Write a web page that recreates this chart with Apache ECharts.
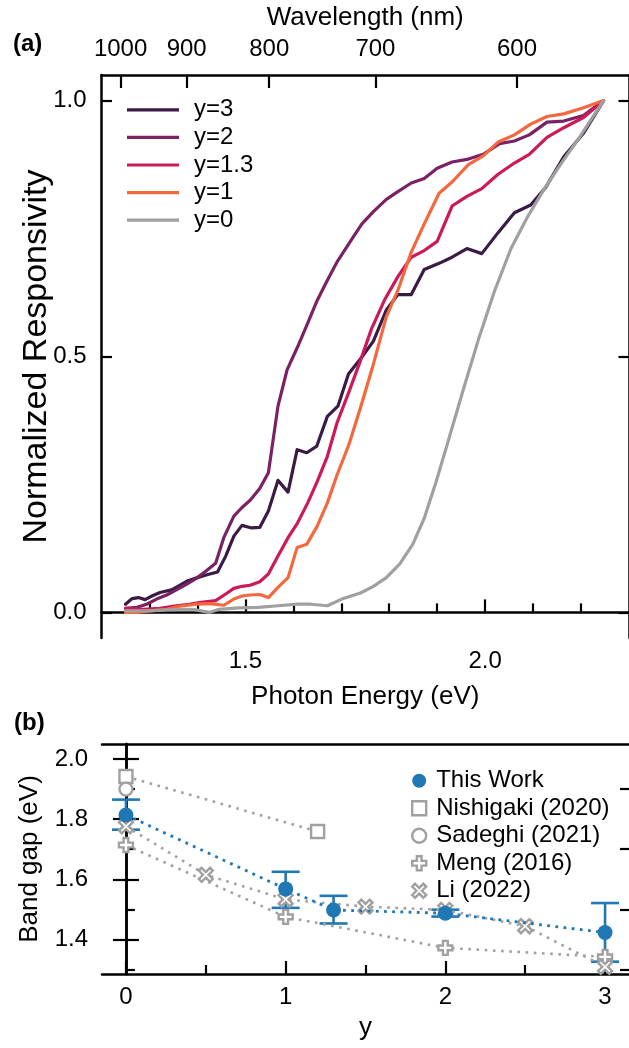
<!DOCTYPE html>
<html>
<head>
<meta charset="utf-8">
<script src="https://cdn.jsdelivr.net/npm/echarts@6/dist/echarts.min.js"></script>
<style>
html,body{margin:0;padding:0;background:#fff;}
#c{width:629px;height:1048px;}
</style>
</head>
<body>
<div id="c"></div>
<script>
// ---------- Panel (a): normalized responsivity vs photon energy ----------
const curveNames = ['y=3', 'y=2', 'y=1.3', 'y=1', 'y=0'];
const curveColors = ['#3b1b46', '#7a2263', '#cc1a56', '#f4683f', '#a0a0a0'];

const energyY3 = [1.250,1.264,1.277,1.291,1.305,1.322,1.346,1.363,1.380,1.397,1.418,1.442,1.459,1.476,1.493,1.513,1.530,1.548,1.568,1.589,1.608,1.628,1.649,1.671,1.693,1.715,1.743,1.767,1.794,1.818,1.846,1.873,1.904,1.931,1.962,1.993,2.027,2.061,2.095,2.126,2.164,2.205,2.247];
const respY3   = [0.016,0.027,0.029,0.025,0.032,0.039,0.044,0.053,0.062,0.067,0.073,0.079,0.110,0.149,0.170,0.165,0.166,0.198,0.258,0.235,0.318,0.312,0.325,0.383,0.403,0.466,0.499,0.530,0.591,0.621,0.621,0.670,0.682,0.694,0.711,0.701,0.742,0.781,0.796,0.830,0.890,0.936,1.0];

const energyY2 = [1.250,1.274,1.294,1.315,1.336,1.356,1.377,1.397,1.418,1.438,1.455,1.476,1.493,1.510,1.530,1.548,1.568,1.587,1.609,1.630,1.650,1.671,1.692,1.719,1.743,1.767,1.794,1.818,1.846,1.873,1.900,1.931,1.962,1.996,2.030,2.061,2.092,2.129,2.164,2.205,2.247];
const respY2   = [0.008,0.010,0.016,0.026,0.034,0.044,0.055,0.066,0.081,0.096,0.146,0.188,0.205,0.219,0.242,0.273,0.403,0.474,0.519,0.565,0.610,0.649,0.686,0.725,0.759,0.783,0.807,0.822,0.839,0.848,0.868,0.880,0.885,0.895,0.916,0.921,0.933,0.958,0.960,0.971,1.0];

const energyY13 = [1.250,1.287,1.322,1.356,1.383,1.404,1.438,1.459,1.476,1.493,1.510,1.530,1.548,1.568,1.589,1.609,1.630,1.650,1.671,1.691,1.716,1.740,1.763,1.791,1.818,1.846,1.873,1.900,1.931,1.962,1.993,2.027,2.061,2.092,2.129,2.164,2.205,2.247];
const respY13   = [0.008,0.006,0.008,0.013,0.016,0.019,0.023,0.036,0.047,0.051,0.053,0.060,0.075,0.110,0.146,0.175,0.214,0.256,0.305,0.370,0.431,0.492,0.554,0.612,0.656,0.694,0.707,0.725,0.794,0.813,0.828,0.856,0.878,0.895,0.928,0.947,0.967,1.0];

const energyY1 = [1.250,1.274,1.301,1.336,1.363,1.397,1.425,1.455,1.476,1.493,1.510,1.530,1.548,1.568,1.589,1.608,1.628,1.650,1.671,1.691,1.716,1.740,1.767,1.794,1.818,1.846,1.873,1.904,1.931,1.965,1.996,2.027,2.061,2.095,2.129,2.164,2.205,2.247];
const respY1   = [0.0,0.0,0.003,0.006,0.012,0.016,0.017,0.014,0.026,0.032,0.034,0.035,0.029,0.049,0.068,0.127,0.133,0.169,0.214,0.268,0.328,0.400,0.485,0.578,0.629,0.704,0.759,0.819,0.841,0.875,0.892,0.919,0.933,0.954,0.969,0.974,0.986,1.0];

const energyY0 = [1.250,1.301,1.336,1.390,1.425,1.445,1.486,1.527,1.568,1.609,1.637,1.671,1.701,1.740,1.767,1.794,1.822,1.849,1.873,1.897,1.924,1.955,1.986,2.020,2.054,2.088,2.123,2.157,2.198,2.247];
const respY0   = [0.003,0.003,0.005,0.006,0.0,0.006,0.009,0.010,0.013,0.016,0.016,0.013,0.026,0.038,0.051,0.068,0.095,0.133,0.184,0.253,0.338,0.437,0.533,0.629,0.711,0.772,0.827,0.875,0.930,1.0];

const energyTicks = [1.5, 2.0];
const energyMinorTicks = [1.3, 1.4, 1.6, 1.7, 1.8, 1.9, 2.1, 2.2];
const wavelengthTicks = [1000, 900, 800, 700, 600];
const respTicks = [0, 0.5, 1.0];

// ---------- Panel (b): band gap vs y ----------
const legendB = ['This Work', 'Nishigaki (2020)', 'Sadeghi (2021)', 'Meng (2016)', 'Li (2022)'];
const thisWorkY   = [0, 1, 1.3, 2, 3];
const thisWorkGap = [1.814, 1.568, 1.498, 1.487, 1.423];
const thisWorkLow = [1.765, 1.505, 1.453, 1.476, 1.326];
const thisWorkHigh= [1.865, 1.625, 1.545, 1.499, 1.521];
const nishigakiY   = [0, 1.2];
const nishigakiGap = [1.942, 1.759];
const sadeghiY   = [0];
const sadeghiGap = [1.90];
const mengY   = [0, 1, 2, 3];
const mengGap = [1.714, 1.475, 1.372, 1.342];
const liY   = [0, 0.5, 1, 1.5, 2, 2.5, 3];
const liGap = [1.776, 1.615, 1.533, 1.509, 1.498, 1.444, 1.309];
const yTicksB = [0, 1, 2, 3];
const yMinorTicksB = [0.5, 1.5, 2.5];
const gapTicks = [1.4, 1.6, 1.8, 2.0];
const gapMinorTicks = [1.3, 1.5, 1.7, 1.9];

const HC = 1239.84; // eV*nm
const zip = (a, b) => a.map((v, i) => [v, b[i]]);

const FONT = '"Liberation Sans", Arial, sans-serif';
const BLACK = '#000';
const GREY = '#a0a0a0';
const BLUE = '#1f77b4';
const PLUS = 'path://M3.3,0H6.7V3.3H10V6.7H6.7V10H3.3V6.7H0V3.3H3.3Z';
const XMARK = 'path://M2,0L5,3L8,0L10,2L7,5L10,8L8,10L5,7L2,10L0,8L3,5L0,2Z';

const axisLineStyle = { show: true, lineStyle: { color: BLACK, width: 2.5 } };
const labelStyle = { color: BLACK, fontSize: 24, fontFamily: FONT };
const nameStyle = { color: BLACK, fontSize: 26, fontFamily: FONT };

function tickAxis(o, values, len) {
  return Object.assign({
    type: 'value',
    splitLine: { show: false },
    axisLine: { show: false },
    axisLabel: { show: false },
    axisTick: { show: len > 0, inside: true, length: len, customValues: values, lineStyle: { color: BLACK, width: 2.2 } }
  }, o);
}
function labelAxis(o, values, fmt, margin) {
  return Object.assign({
    type: 'value',
    splitLine: { show: false },
    axisLine: axisLineStyle,
    axisTick: { show: false },
    nameMoveOverlap: false,
    axisLabel: Object.assign({ show: true, customValues: values, margin: margin, formatter: fmt }, labelStyle)
  }, o);
}

const chart = echarts.init(document.getElementById('c'), null, { renderer: 'canvas', width: 629, height: 1048 });

const curves = [
  zip(energyY3, respY3), zip(energyY2, respY2), zip(energyY13, respY13),
  zip(energyY1, respY1), zip(energyY0, respY0)
];

const series = curves.map((d, i) => ({
  name: curveNames[i], type: 'line', xAxisIndex: 0, yAxisIndex: 0,
  data: d, symbol: 'none', silent: true, animation: false,
  lineStyle: { color: curveColors[i], width: 3.2, cap: 'round', join: 'round' },
  itemStyle: { color: curveColors[i] }
}));

const dotGrey = { color: GREY, width: 2.6, type: [2.6, 5.6], cap: 'butt' };
const hollow = { color: '#fff', borderColor: GREY, borderWidth: 2.4 };
const BX = 3, BYI = 3; // axis indices of panel (b)

series.push(
  { name: 'Nishigaki (2020)', type: 'line', xAxisIndex: BX, yAxisIndex: BYI, data: zip(nishigakiY, nishigakiGap),
    symbol: 'rect', symbolSize: 13, lineStyle: dotGrey, itemStyle: hollow, silent: true, animation: false },
  { name: 'Sadeghi (2021)', type: 'line', xAxisIndex: BX, yAxisIndex: BYI, data: zip(sadeghiY, sadeghiGap),
    symbol: 'circle', symbolSize: 13, lineStyle: dotGrey, itemStyle: hollow, silent: true, animation: false },
  { name: 'Meng (2016)', type: 'line', xAxisIndex: BX, yAxisIndex: BYI, data: zip(mengY, mengGap),
    symbol: PLUS, symbolSize: 14, lineStyle: dotGrey, itemStyle: hollow, silent: true, animation: false },
  { name: 'Li (2022)', type: 'line', xAxisIndex: BX, yAxisIndex: BYI, data: zip(liY, liGap),
    symbol: XMARK, symbolSize: 14, lineStyle: dotGrey, itemStyle: hollow, silent: true, animation: false },
  { name: 'errbars', type: 'custom', xAxisIndex: BX, yAxisIndex: BYI, silent: true, animation: false,
    data: thisWorkY.map((v, i) => [v, thisWorkLow[i], thisWorkHigh[i]]),
    renderItem: function (params, api) {
      const x = api.value(0);
      const pHi = api.coord([x, api.value(2)]);
      const pLo = api.coord([x, api.value(1)]);
      const hw = 14;
      const st = { stroke: BLUE, lineWidth: 2.6 };
      return { type: 'group', children: [
        { type: 'line', shape: { x1: pHi[0], y1: pHi[1], x2: pLo[0], y2: pLo[1] }, style: st },
        { type: 'line', shape: { x1: pHi[0] - hw, y1: pHi[1], x2: pHi[0] + hw, y2: pHi[1] }, style: st },
        { type: 'line', shape: { x1: pLo[0] - hw, y1: pLo[1], x2: pLo[0] + hw, y2: pLo[1] }, style: st }
      ]};
    }
  },
  { name: 'This Work', type: 'line', xAxisIndex: BX, yAxisIndex: BYI, data: zip(thisWorkY, thisWorkGap),
    symbol: 'circle', symbolSize: 15, lineStyle: { color: BLUE, width: 2.8, type: [2.8, 5.4], cap: 'butt' },
    itemStyle: { color: BLUE }, silent: true, animation: false, z: 5 }
);

const A = { gridIndex: 0, min: 1.2, max: 2.3 };
const AY = { gridIndex: 0, min: -0.05, max: 1.05 };
const B = { gridIndex: 1, min: -0.15, max: 3.15 };
const BY = { gridIndex: 1, min: 1.285, max: 2.05 };
const wlEnergies = wavelengthTicks.map(w => HC / w);

const option = {
  animation: false,
  backgroundColor: '#fff',
  textStyle: { fontFamily: FONT },
  grid: [
    { left: 101.5, top: 74, width: 531.5, height: 564 },
    { left: 102, top: 744, width: 532.3, height: 230 }
  ],
  xAxis: [
    labelAxis(Object.assign({ position: 'bottom', name: 'Photon Energy (eV)', nameLocation: 'middle', nameGap: 46, nameTextStyle: nameStyle }, A),
      energyTicks, v => v.toFixed(1), 11),
    tickAxis(Object.assign({ position: 'bottom' }, A), energyTicks, 13),
    tickAxis(Object.assign({ position: 'bottom' }, A), energyMinorTicks, 9),
    labelAxis(Object.assign({ position: 'bottom', name: 'y', nameLocation: 'middle', nameGap: 41, nameTextStyle: nameStyle }, B),
      yTicksB, v => String(v), 11),
    tickAxis(Object.assign({ position: 'bottom' }, B), yTicksB, 13),
    tickAxis(Object.assign({ position: 'bottom' }, B), yMinorTicksB, 9),
    labelAxis(Object.assign({ position: 'top', name: 'Wavelength (nm)', nameLocation: 'middle', nameGap: 44, nameTextStyle: nameStyle }, A),
      wlEnergies, v => String(Math.round(HC / v)), 14),
    tickAxis(Object.assign({ position: 'top' }, A), wlEnergies, 13),
    tickAxis(Object.assign({ position: 'top', axisLine: axisLineStyle }, B), yTicksB, 0)
  ],
  yAxis: [
    labelAxis(Object.assign({ position: 'left', name: 'Normalized Responsivity', nameLocation: 'middle', nameGap: 47.5,
      nameTextStyle: Object.assign({}, nameStyle, { fontSize: 34 }) }, AY),
      respTicks, v => v.toFixed(1), 15),
    tickAxis(Object.assign({ position: 'left' }, AY), respTicks, 10.5),
    tickAxis(Object.assign({ position: 'right', axisLine: axisLineStyle }, AY), respTicks, 10.5),
    labelAxis(Object.assign({ position: 'left', name: 'Band gap (eV)', nameLocation: 'middle', nameGap: 59, nameTextStyle: nameStyle }, BY),
      gapTicks, v => v.toFixed(1), 14),
    tickAxis(Object.assign({ position: 'left' }, BY), gapTicks, 13),
    tickAxis(Object.assign({ position: 'left' }, BY), gapMinorTicks, 9),
    tickAxis(Object.assign({ position: 'right', axisLine: axisLineStyle }, BY), gapTicks, 13),
    tickAxis(Object.assign({ position: 'right' }, BY), gapMinorTicks, 9)
  ],
  legend: [
    { orient: 'vertical', left: 122, top: 91, itemWidth: 52, itemHeight: 3.2, itemGap: 0,
      selectedMode: false,
      data: curveNames.map(n => ({ name: n, icon: 'rect' })),
      textStyle: { color: BLACK, fontSize: 24, fontFamily: FONT, lineHeight: 27.6, padding: [0, 0, 0, 10] } },
    { orient: 'vertical', left: 406, top: 762, itemWidth: 14, itemHeight: 14, itemGap: 0,
      selectedMode: false,
      data: [
        { name: 'This Work', icon: 'circle', itemStyle: { color: BLUE } },
        { name: 'Nishigaki (2020)', icon: 'rect', itemStyle: { color: '#fff', borderColor: GREY, borderWidth: 2.4 } },
        { name: 'Sadeghi (2021)', icon: 'circle', itemStyle: { color: '#fff', borderColor: GREY, borderWidth: 2.4 } },
        { name: 'Meng (2016)', icon: PLUS, itemStyle: { color: '#fff', borderColor: GREY, borderWidth: 2.4 } },
        { name: 'Li (2022)', icon: XMARK, itemStyle: { color: '#fff', borderColor: GREY, borderWidth: 2.4 } }
      ],
      textStyle: { color: BLACK, fontSize: 24, fontFamily: FONT, lineHeight: 27.5, padding: [0, 0, 0, 5] } }
  ],
  graphic: [
    { type: 'text', left: 13, top: 32, style: { text: '(a)', fontSize: 24, fontWeight: 'bold', fontFamily: FONT, fill: BLACK } },
    { type: 'text', left: 14, top: 711, style: { text: '(b)', fontSize: 24, fontWeight: 'bold', fontFamily: FONT, fill: BLACK } }
  ],
  series: series
};

chart.setOption(option);
</script>
</body>
</html>
